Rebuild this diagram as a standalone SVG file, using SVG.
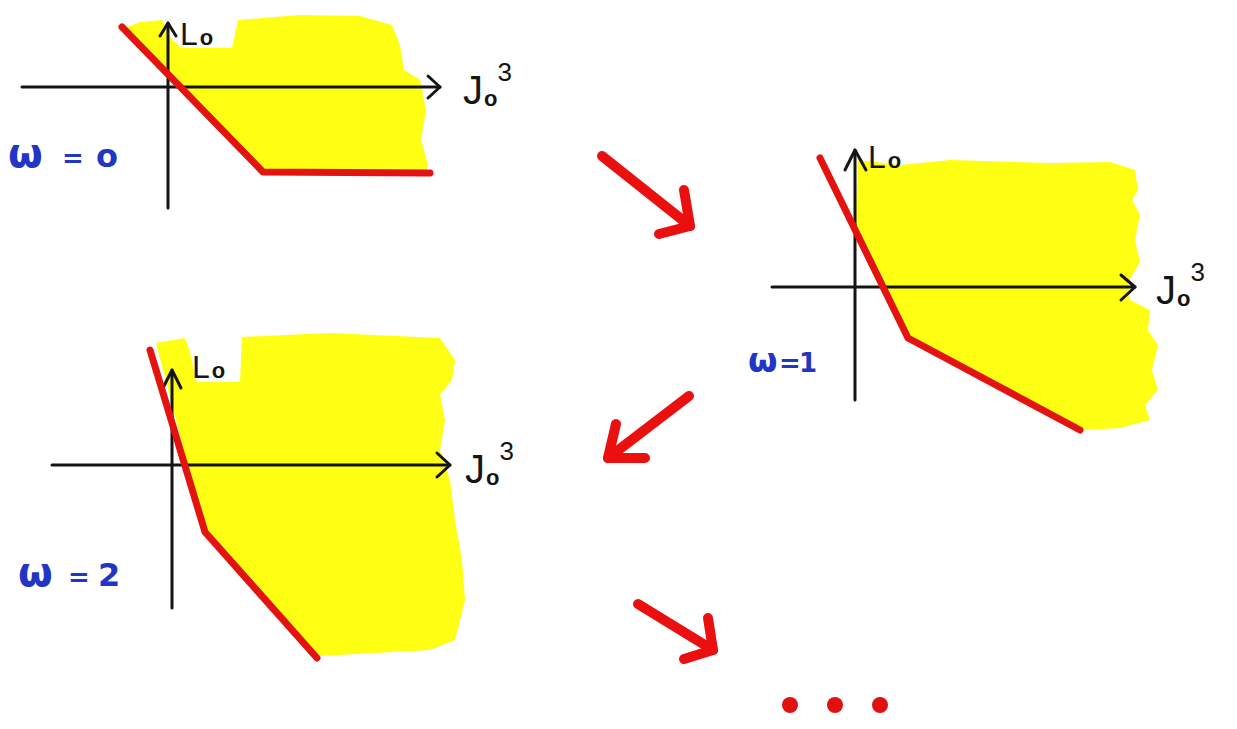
<svg xmlns="http://www.w3.org/2000/svg" width="1237" height="729" viewBox="0 0 1237 729">
<style>
.yel{fill:#ffff14;stroke:none}
.ax{fill:none;stroke:#151515;stroke-width:3;stroke-linecap:round;stroke-linejoin:round}
.rl{fill:none;stroke:#e3140f;stroke-width:7;stroke-linecap:round;stroke-linejoin:round}
.arr{fill:none;stroke:#ea1010;stroke-width:10;stroke-linecap:round;stroke-linejoin:round}
.lab{font-family:"Liberation Sans","DejaVu Sans",sans-serif;fill:#151515;font-size:32px}
.jl{font-size:40px}
.sub{font-size:22px;font-weight:bold}
.sup{font-size:26px}
.w{font-family:"DejaVu Sans","Liberation Sans",sans-serif;fill:#2236c4;font-size:32px;font-weight:bold}
.om{font-size:40px}
.eq{font-size:26px}
.om1{font-size:34px}
</style>
<rect width="1237" height="729" fill="#ffffff"/>
<g id="plot-w0">
<polygon class="yel" points="125,28 140,22 162,20 172,40 182,48 232,48 238,20 300,15 360,16 392,25 400,45 404,70 420,80 426,110 421,140 428,165 426,173 263,173"/>
<polyline class="ax" points="168,208 168,23"/>
<polyline class="ax" points="160,36 168,23 176,36"/>
<polyline class="ax" points="22,87 440,87"/>
<polyline class="ax" points="428,76 440,87 428,98"/>
<polyline class="rl" points="122,27 263,172 430,173"/>
<text class="lab" x="180" y="45">L<tspan class="sub" dx="2">o</tspan></text>
<text class="lab jl" x="463" y="104">J<tspan class="sub" dx="1" dy="2">o</tspan><tspan class="sup" dy="-25">3</tspan></text>
<text class="w" y="167"><tspan class="om" x="8">ω</tspan><tspan class="eq" x="62">=</tspan><tspan x="96">o</tspan></text>
</g>
<g id="plot-w1">
<polygon class="yel" points="858,160 900,165 950,160 1050,163 1110,162 1135,170 1138,190 1132,200 1140,215 1135,240 1140,262 1128,282 1130,300 1150,310 1148,330 1158,345 1152,370 1158,390 1145,405 1150,420 1120,428 1082,430 908,338 855,230"/>
<polyline class="ax" points="855,400 855,150"/>
<polyline class="ax" points="845,170 855,150 866,170"/>
<polyline class="ax" points="772,287 1135,287"/>
<polyline class="ax" points="1121,275 1135,287 1121,300"/>
<polyline class="rl" points="820,158 908,338 1080,430"/>
<text class="lab" x="868" y="168">L<tspan class="sub" dx="2">o</tspan></text>
<text class="lab jl" x="1156" y="304">J<tspan class="sub" dx="1" dy="2">o</tspan><tspan class="sup" dy="-25">3</tspan></text>
<text class="w" y="372"><tspan class="om1" x="748">ω</tspan><tspan class="eq" x="779">=</tspan><tspan class="eq" x="799">1</tspan></text>
</g>
<g id="plot-w2">
<polygon class="yel" points="156,343 185,338 190,352 196,382 240,382 242,337 330,333 440,338 455,360 452,380 440,395 445,420 440,450 450,480 455,520 462,560 465,600 455,640 430,650 320,656 205,532"/>
<polyline class="ax" points="172,608 172,370"/>
<polyline class="ax" points="163,388 172,370 181,388"/>
<polyline class="ax" points="52,465 450,465"/>
<polyline class="ax" points="437,453 450,465 437,477"/>
<polyline class="rl" points="150,350 205,532 317,658"/>
<text class="lab" x="192" y="378">L<tspan class="sub" dx="2">o</tspan></text>
<text class="lab jl" x="465" y="483">J<tspan class="sub" dx="1" dy="2">o</tspan><tspan class="sup" dy="-25">3</tspan></text>
<text class="w" y="586"><tspan class="om" x="18">ω</tspan><tspan class="eq" x="68">=</tspan><tspan x="98">2</tspan></text>
</g>
<g id="connectors">
<polyline class="arr" points="602,156 690,226"/>
<polyline class="arr" points="684,190 690,226 659,234"/>
<polyline class="arr" points="689,396 608,458"/>
<polyline class="arr" points="616,424 608,458 645,458"/>
<polyline class="arr" points="638,604 713,650"/>
<polyline class="arr" points="708,618 713,650 684,659"/>
</g>
<g id="ellipsis" fill="#e0110f">
<circle cx="790" cy="705" r="8"/>
<circle cx="835" cy="705" r="8"/>
<circle cx="880" cy="705" r="8"/>
</g>
</svg>
